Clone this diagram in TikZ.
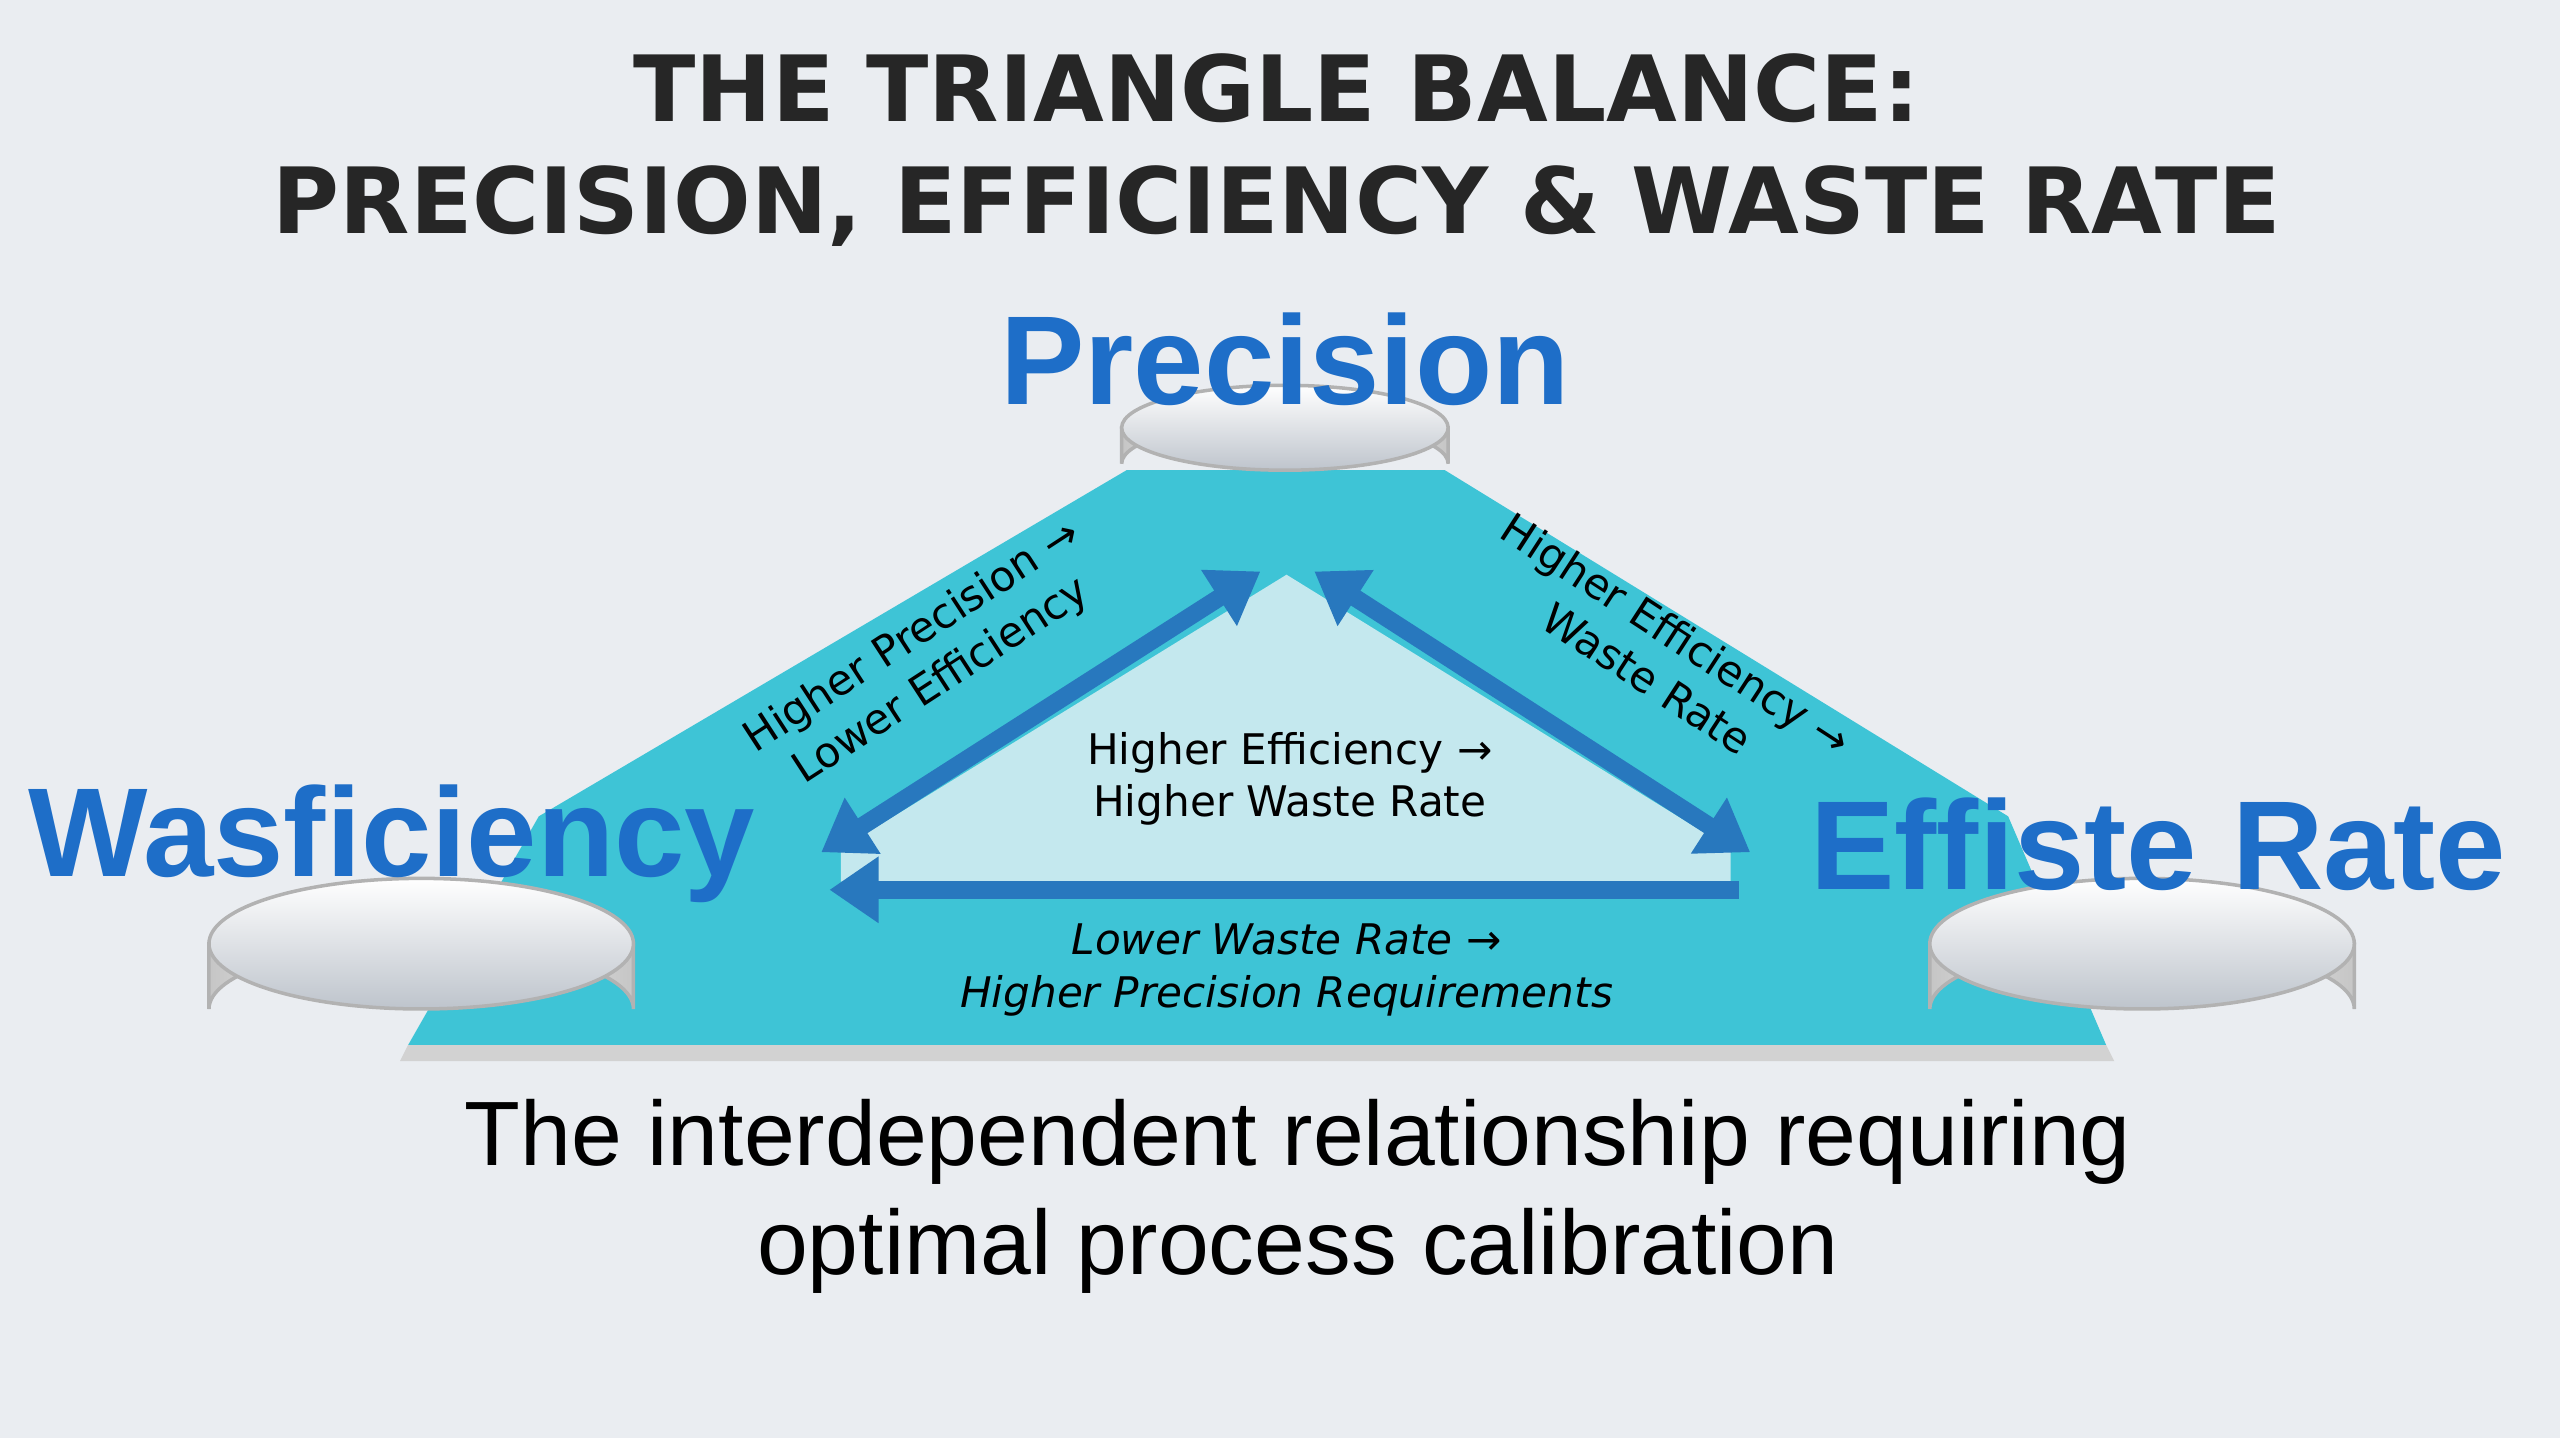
\documentclass[tikz,border=0pt]{standalone}
\usepackage{fontspec}
\setmainfont{DejaVu Sans}
\newfontfamily\capfont{Liberation Sans}
\usetikzlibrary{positioning,arrows.meta,shadows}
\definecolor{bgpale}{RGB}{234,237,241}
\definecolor{tealfill}{RGB}{62,196,214}
\definecolor{tealpale}{RGB}{196,232,238}
\definecolor{labelblue}{RGB}{30,110,200}
\definecolor{arrowblue}{RGB}{40,120,190}
\definecolor{silver}{RGB}{190,196,204}

\tikzset{
  puck/.style={draw=gray!60,line width=1pt,top color=white,bottom color=silver},
  puckside/.style={draw=gray!60,line width=1pt,left color=gray!45,right color=gray!45,middle color=white},
  cornerlabel/.style={font=\capfont\bfseries\fontsize{36}{40}\selectfont,text=labelblue,
    draw=none,inner sep=0pt},
  relation/.style={font=\fontsize{12}{15}\selectfont,align=center,inner sep=1pt},
  link/.style={arrowblue,line width=5pt,-{Triangle[length=14pt,width=18pt]}},
  twoway/.style={arrowblue,line width=5pt,{Triangle[length=14pt,width=18pt]}-{Triangle[length=14pt,width=18pt]}}
}

\begin{document}
\begin{tikzpicture}[x=0.01633cm,y=-0.01633cm]
    \fill[bgpale] (0,0) rectangle (1568,881);
    \useasboundingbox (0,0) rectangle (1568,881);

    % title
    \node[font=\bfseries\fontsize{26}{32}\selectfont,align=center,text=black!85] (title) at (782,92)
        {THE TRIANGLE BALANCE:\\PRECISION, EFFICIENCY \& WASTE RATE};

    % base plate
    \fill[gray!35] (245,650) -- (1295,650) -- (1290,640) -- (250,640) -- cycle;
    \fill[tealfill] (690,288) -- (885,288) -- (1230,500) -- (1290,640) -- (250,640) -- (330,500) -- cycle;
    \fill[tealpale] (788,352) -- (1060,520) -- (1060,540) -- (515,540) -- (515,520) -- cycle;

    % pucks
    \foreach \cx/\cy/\rx/\ry/\h in {787/262/100/26/22, 258/578/130/40/40, 1312/578/130/40/40}{
      \fill[puckside] (\cx-\rx,\cy) -- (\cx-\rx,\cy+\h) arc[start angle=180,end angle=360,x radius=\rx,y radius=\ry] -- (\cx+\rx,\cy) -- cycle;
      \draw[puck] (\cx,\cy) ellipse [x radius=\rx,y radius=\ry];
    }

    % corner labels
    \node[cornerlabel] (prec) at (787,220) {Precision};
    \node[cornerlabel] (left) at (240,517) {Wasficiency};
    \node[cornerlabel] (right) at (1322,517) {Effiste Rate};

    % arrow ends
    \coordinate (topL) at (772,350);
    \coordinate (topR) at (805,350);
    \coordinate (botL) at (503,522);
    \coordinate (botR) at (1072,522);
    \coordinate (baseR) at (1065,545);
    \coordinate (baseL) at (508,545);

    \draw[twoway] (botL) -- (topL);
    \draw[twoway] (topR) -- (botR);
    \draw[link] (baseR) -- (baseL);

    % relation texts
    \node[relation,rotate=33] (relL) at (568,404) {Higher Precision →\\Lower Efficiency};
    \node[relation,rotate=-33] (relR) at (1018,402) {Higher Efficiency →\\Waste Rate};
    \node[relation] (relM) at (790,477) {Higher Efficiency →\\Higher Waste Rate};
    \node[relation,font=\itshape\fontsize{12}{15}\selectfont] (relB) at (788,594)
        {Lower Waste Rate →\\Higher Precision Requirements};

    % caption
    \node[font=\capfont\fontsize{26}{31}\selectfont,align=center] (caption) at (795,733)
        {The interdependent relationship requiring\\optimal process calibration};
\end{tikzpicture}
\end{document}
